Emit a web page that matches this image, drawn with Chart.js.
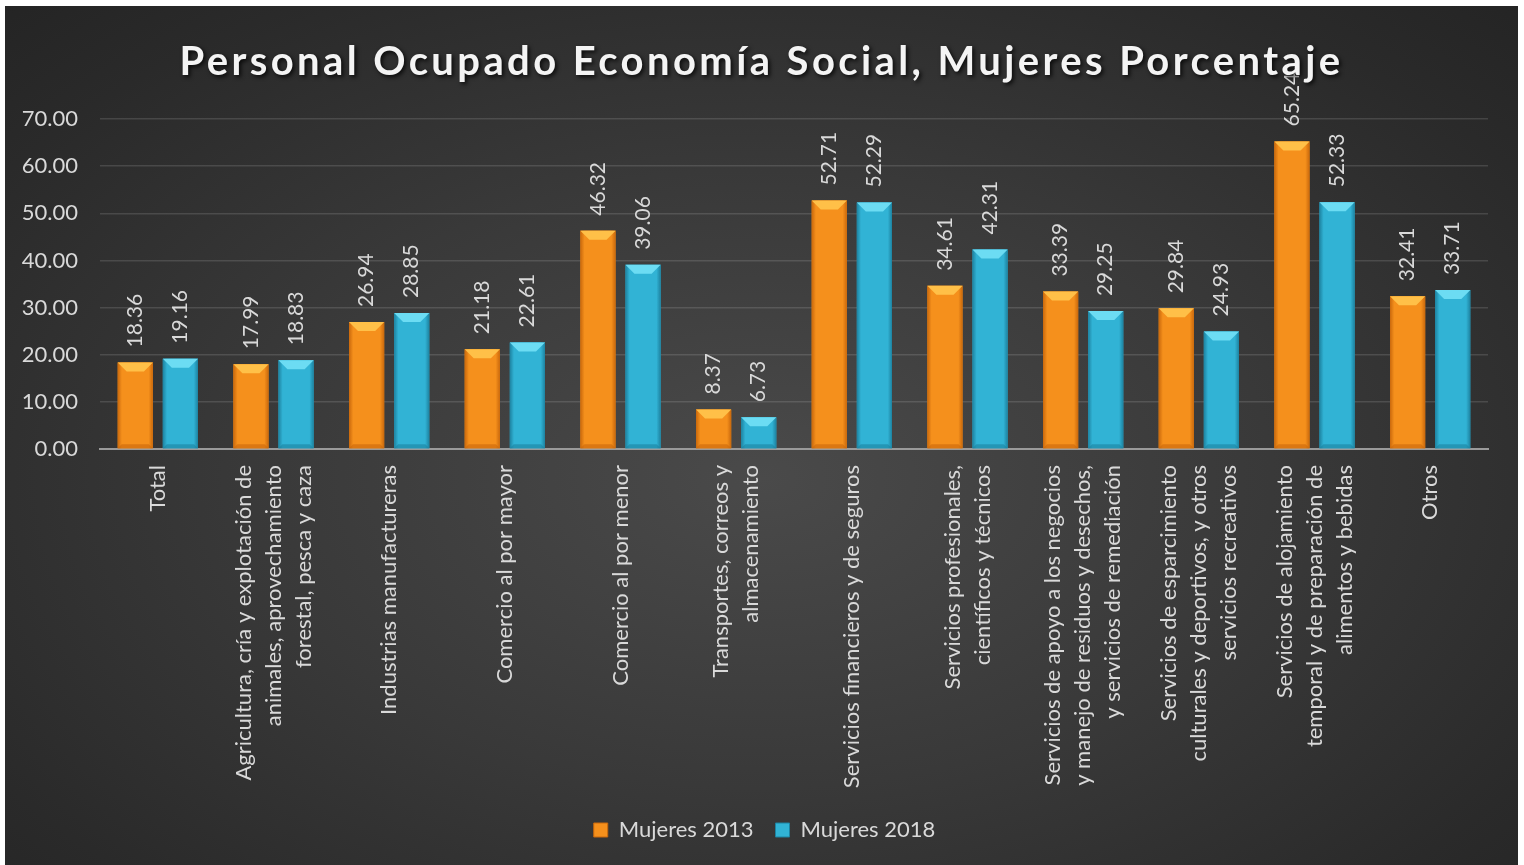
<!DOCTYPE html>
<html>
<head>
<meta charset="utf-8">
<script src="https://cdn.jsdelivr.net/npm/chart.js@4"></script>
<style>
  body { margin: 0; background: #ffffff; }
  #wrap {
    position: absolute; left: 5px; top: 6px; width: 1513px; height: 859px;
    background: radial-gradient(ellipse 75% 80% at 50% 55%, #4a4a4a 0%, #393939 45%, #2a2a2a 80%, #232323 100%);
  }
</style>
</head>
<body>
<div id="wrap"><canvas id="chart"></canvas></div>
<script>
const titleText = "Personal Ocupado Economía Social, Mujeres Porcentaje";

const categories = [
    "Total",
    ["Agricultura, cría y explotación de", "animales, aprovechamiento", "forestal, pesca y caza"],
    "Industrias manufactureras",
    "Comercio al por mayor",
    "Comercio al por menor",
    ["Transportes, correos y", "almacenamiento"],
    "Servicios financieros y de seguros",
    ["Servicios profesionales,", "científicos y técnicos"],
    ["Servicios de apoyo a los negocios", "y manejo de residuos y desechos,", "y servicios de remediación"],
    ["Servicios de esparcimiento", "culturales y deportivos, y otros", "servicios recreativos"],
    ["Servicios de alojamiento", "temporal y de preparación de", "alimentos y bebidas"],
    "Otros"
];

const mujeres2013 = [18.36, 17.99, 26.94, 21.18, 46.32, 8.37, 52.71, 34.61, 33.39, 29.84, 65.24, 32.41];
const mujeres2018 = [19.16, 18.83, 28.85, 22.61, 39.06, 6.73, 52.29, 42.31, 29.25, 24.93, 52.33, 33.71];

const seriesNames = ["Mujeres 2013", "Mujeres 2018"];

const textColor = "#d9d9d9";
const fontName = "Lato, 'Open Sans', sans-serif";

const palette = [
    { body: "#f5901c", light: "#ffc048", dark: "#c9680c" },
    { body: "#31b3d5", light: "#6cdcf3", dark: "#1d82a0" }
];

// title with letter spacing and shadow
const titlePlugin = {
    id: "titleDraw",
    afterDraw(chart) {
        const ctx = chart.ctx;
        ctx.save();
        ctx.font = "bold 40px " + fontName;
        ctx.letterSpacing = "3.4px";
        ctx.textAlign = "center";
        ctx.textBaseline = "alphabetic";
        ctx.shadowColor = "rgba(0,0,0,0.8)";
        ctx.shadowOffsetX = 2;
        ctx.shadowOffsetY = 2;
        ctx.shadowBlur = 4;
        ctx.fillStyle = "#f4f4f4";
        ctx.fillText(titleText, chart.width / 2, 69);
        ctx.restore();
    }
};

// legend sits a bit right of the canvas centre in the original
const legendShift = {
    id: "legendShift",
    afterLayout(chart) {
        chart.legend.left += 18;
        chart.legend.right += 18;
    }
};

// bevel look on bars + value labels
const barPlugin = {
    id: "barLook",
    afterDatasetsDraw(chart) {
        const ctx = chart.ctx;
        chart.data.datasets.forEach((ds, di) => {
            const meta = chart.getDatasetMeta(di);
            const col = palette[di];
            meta.data.forEach((bar, i) => {
                const w = bar.width;
                const left = bar.x - w / 2;
                const right = bar.x + w / 2;
                const top = bar.y;
                const bottom = bar.base;
                const bev = Math.min(9, (bottom - top) / 2);
                ctx.save();
                let g = ctx.createLinearGradient(left, 0, right, 0);
                g.addColorStop(0, col.dark);
                g.addColorStop(0.12, col.body);
                g.addColorStop(0.88, col.body);
                g.addColorStop(1, col.dark);
                ctx.fillStyle = g;
                ctx.fillRect(left, top, w, bottom - top);
                ctx.beginPath();
                ctx.moveTo(left, top);
                ctx.lineTo(right, top);
                ctx.lineTo(right - bev, top + bev);
                ctx.lineTo(left + bev, top + bev);
                ctx.closePath();
                ctx.fillStyle = col.light;
                ctx.fill();
                ctx.beginPath();
                ctx.moveTo(left, bottom);
                ctx.lineTo(right, bottom);
                ctx.lineTo(right - 4, bottom - 4);
                ctx.lineTo(left + 4, bottom - 4);
                ctx.closePath();
                ctx.fillStyle = col.dark;
                ctx.globalAlpha = 0.6;
                ctx.fill();
                ctx.restore();

                // value label
                ctx.save();
                ctx.translate(bar.x, top - 15);
                ctx.rotate(-Math.PI / 2);
                ctx.font = "21px " + fontName;
                ctx.fillStyle = textColor;
                ctx.textAlign = "left";
                ctx.textBaseline = "middle";
                ctx.fillText(ds.data[i].toFixed(2), 0, 0);
                ctx.restore();
            });
        });
    }
};

// rotated multi-line category labels centred on each tick
const catLabelPlugin = {
    id: "catLabels",
    afterDraw(chart) {
        const ctx = chart.ctx;
        const xs = chart.scales.x;
        const lineH = 30;
        ctx.save();
        ctx.font = "22px " + fontName;
        ctx.fillStyle = textColor;
        ctx.textAlign = "right";
        ctx.textBaseline = "middle";
        categories.forEach((lab, i) => {
            const lines = Array.isArray(lab) ? lab : [lab];
            const cx = xs.getPixelForTick(i);
            const y0 = xs.top + 16;
            lines.forEach((ln, k) => {
                const off = (k - (lines.length - 1) / 2) * lineH;
                ctx.save();
                ctx.translate(cx + off, y0);
                ctx.rotate(-Math.PI / 2);
                ctx.fillText(ln, 0, 0);
                ctx.restore();
            });
        });
        ctx.restore();
    }
};

new Chart(document.getElementById("chart"), {
    type: "bar",
    data: {
        labels: categories,
        datasets: [
            { label: seriesNames[0], data: mujeres2013, backgroundColor: palette[0].body, borderWidth: 0 },
            { label: seriesNames[1], data: mujeres2018, backgroundColor: palette[1].body, borderWidth: 0 }
        ]
    },
    options: {
        responsive: true,
        maintainAspectRatio: false,
        animation: false,
        categoryPercentage: 0.78,
        barPercentage: 0.78,
        layout: { padding: { top: 113, left: 0, right: 30, bottom: 14 } },
        scales: {
            x: {
                grid: { display: false, drawTicks: false },
                border: { display: true, color: "#9a9a9a", width: 2 },
                ticks: { display: false },
                afterFit(scale) { scale.height = 348; }
            },
            y: {
                min: 0,
                max: 70,
                grid: { color: "rgba(255,255,255,0.13)", lineWidth: 1.5, drawTicks: false },
                border: { display: false },
                ticks: {
                    stepSize: 10,
                    padding: 22,
                    color: textColor,
                    font: { family: fontName, size: 22 },
                    callback: v => v.toFixed(2)
                },
                afterFit(scale) { scale.width = 95; }
            }
        },
        plugins: {
            title: { display: false },
            tooltip: { enabled: false },
            legend: {
                position: "bottom",
                labels: {
                    color: textColor,
                    font: { family: fontName, size: 22 },
                    boxWidth: 14,
                    boxHeight: 14,
                    padding: 22,
                    generateLabels(chart) {
                        return chart.data.datasets.map((ds, i) => ({
                            text: ds.label,
                            fillStyle: palette[i].body,
                            strokeStyle: palette[i].dark,
                            lineWidth: 1,
                            fontColor: textColor,
                            datasetIndex: i
                        }));
                    }
                }
            }
        }
    },
    plugins: [legendShift, barPlugin, catLabelPlugin, titlePlugin]
});
</script>
</body>
</html>
